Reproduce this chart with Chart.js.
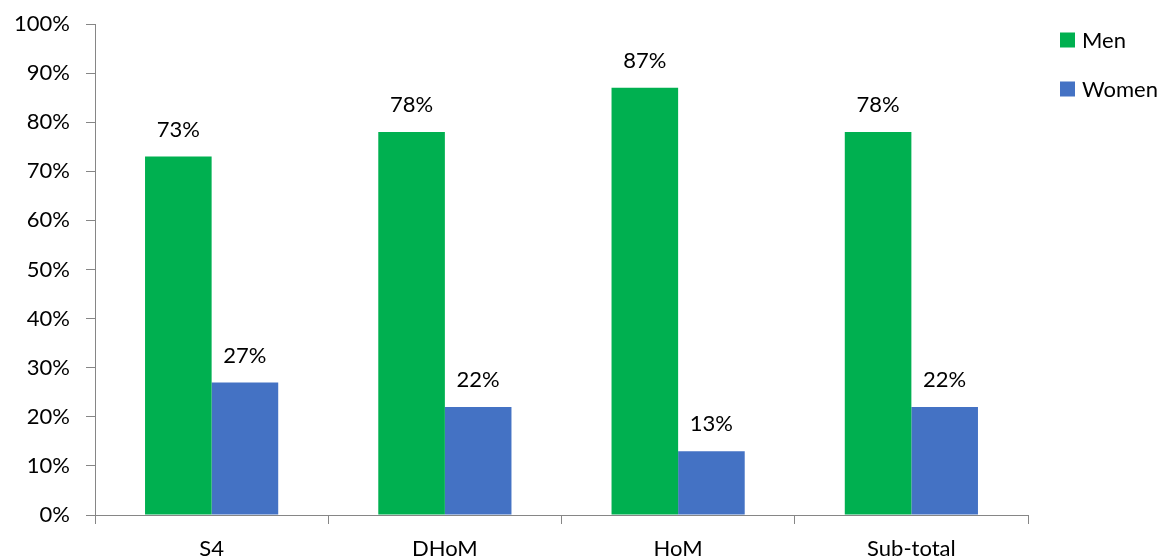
<!DOCTYPE html>
<html lang="en">
<head>
  <meta charset="UTF-8" />
  <title>Men vs Women by grade</title>
  <script src="https://cdn.jsdelivr.net/npm/chart.js"></script>
  <style>
    html, body { margin: 0; padding: 0; background: #fff; }
    #wrap { width: 1169px; height: 560px; position: relative; }
  </style>
</head>
<body>
  <div id="wrap"><canvas id="chart"></canvas></div>
  <script>
    const categories = ['S4', 'DHoM', 'HoM', 'Sub-total'];
    const menValues = [73, 78, 87, 78];
    const womenValues = [27, 22, 13, 22];
    const seriesNames = ['Men', 'Women'];
    const seriesColors = ['#00B050', '#4472C4'];

    const FONT = 'Lato, Open Sans, sans-serif';
    const AXIS = '#868686';

    // value labels above each bar
    const barLabels = {
      id: 'barLabels',
      afterDatasetsDraw(chart) {
        const ctx = chart.ctx;
        ctx.save();
        ctx.font = '22px ' + FONT;
        ctx.fillStyle = '#000';
        ctx.textAlign = 'center';
        ctx.textBaseline = 'middle';
        chart.data.datasets.forEach((ds, i) => {
          chart.getDatasetMeta(i).data.forEach((bar, j) => {
            ctx.fillText(ds.data[j] + '%', bar.x, bar.y - 27);
          });
        });
        ctx.restore();
      }
    };

    // legend on the right, top aligned
    const sideLegend = {
      id: 'sideLegend',
      afterDraw(chart) {
        const ctx = chart.ctx;
        ctx.save();
        ctx.font = '22px ' + FONT;
        ctx.textBaseline = 'middle';
        ctx.textAlign = 'left';
        chart.data.datasets.forEach((ds, i) => {
          const y = 40 + i * 49;
          ctx.fillStyle = ds.backgroundColor;
          ctx.fillRect(1060, y - 7.5, 15, 15);
          ctx.fillStyle = '#000';
          ctx.fillText(ds.label, 1082, y + 1);
        });
        ctx.restore();
      }
    };

    new Chart(document.getElementById('chart'), {
      type: 'bar',
      data: {
        labels: categories,
        datasets: [
          { label: seriesNames[0], data: menValues, backgroundColor: seriesColors[0] },
          { label: seriesNames[1], data: womenValues, backgroundColor: seriesColors[1] }
        ]
      },
      options: {
        responsive: true,
        maintainAspectRatio: false,
        animation: false,
        layout: { padding: { top: 24, right: 141, left: 0, bottom: 0 } },
        datasets: { bar: { categoryPercentage: 0.571, barPercentage: 1.0 } },
        plugins: { legend: { display: false }, tooltip: { enabled: false } },
        scales: {
          x: {
            grid: { display: true, offset: true, drawOnChartArea: false, drawTicks: true, tickLength: 9, color: AXIS },
            border: { display: true, color: AXIS },
            ticks: { color: '#000', font: { family: FONT, size: 22 }, padding: 12 },
            afterFit(scale) { scale.height = 45; }
          },
          y: {
            min: 0,
            max: 100,
            grid: { display: true, drawOnChartArea: false, drawTicks: true, tickLength: 9, color: AXIS },
            border: { display: true, color: AXIS },
            ticks: { stepSize: 10, color: '#000', font: { family: FONT, size: 22, lineHeight: 0.6 }, padding: 16,
              callback: v => v + '%' },
            afterFit(scale) { scale.width = 95; }
          }
        }
      },
      plugins: [barLabels, sideLegend]
    });
  </script>
</body>
</html>
